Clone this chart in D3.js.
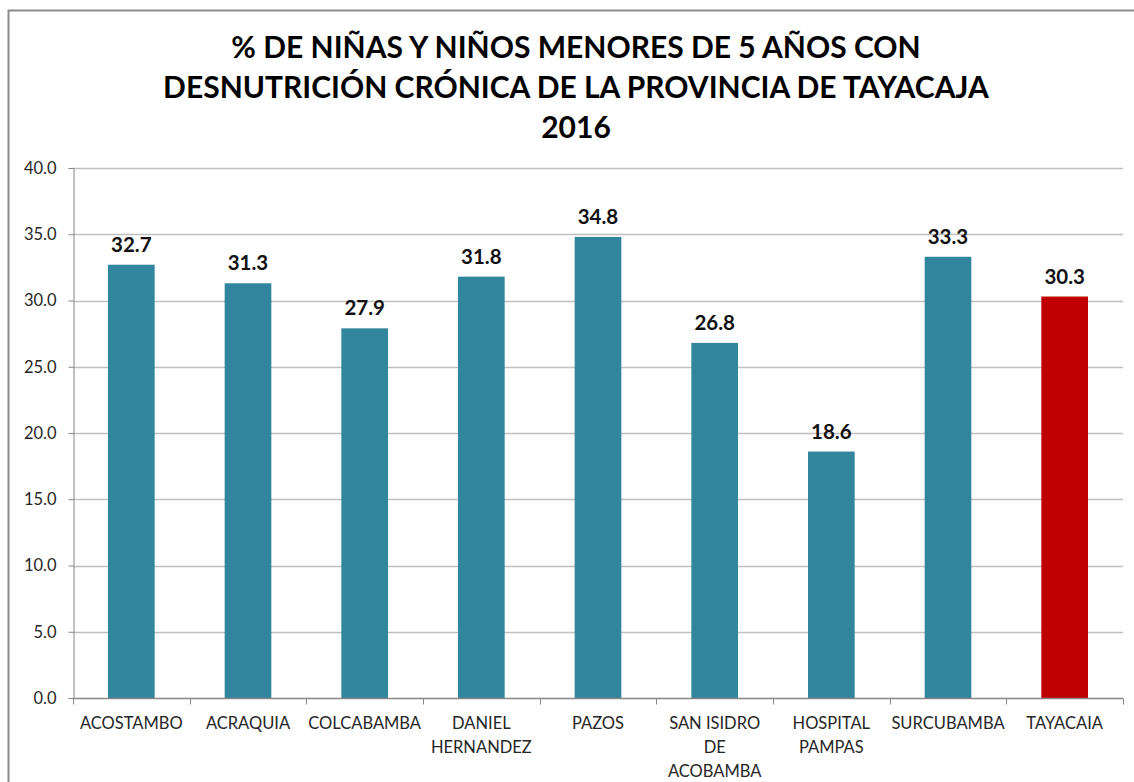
<!DOCTYPE html>
<html>
<head>
<meta charset="utf-8">
<script src="https://cdn.jsdelivr.net/npm/d3@7"></script>
<style>
body { margin: 0; background: #fff; }
svg { display: block; }
</style>
</head>
<body>
<div id="chart"></div>
<script>

var width = 1134,
	height = 782,
	margin = {top: 168, right: 11, bottom: 84, left: 73};

// data

var distritos = ["ACOSTAMBO", "ACRAQUIA", "COLCABAMBA", "DANIEL HERNANDEZ", "PAZOS",
	"SAN ISIDRO DE ACOBAMBA", "HOSPITAL PAMPAS", "SURCUBAMBA", "TAYACAIA"];
var etiquetas = [["ACOSTAMBO"], ["ACRAQUIA"], ["COLCABAMBA"], ["DANIEL", "HERNANDEZ"], ["PAZOS"],
	["SAN ISIDRO", "DE", "ACOBAMBA"], ["HOSPITAL", "PAMPAS"], ["SURCUBAMBA"], ["TAYACAIA"]];
var valores = [32.7, 31.3, 27.9, 31.8, 34.8, 26.8, 18.6, 33.3, 30.3];
var yticks = [0, 5, 10, 15, 20, 25, 30, 35, 40];
var titulo = ["% DE NIÑAS Y NIÑOS MENORES DE 5 AÑOS CON",
	"DESNUTRICIÓN CRÓNICA DE LA PROVINCIA DE TAYACAJA",
	"2016"];

var barcolor = "#31859c",
	totalcolor = "#c00000",
	gridcolor = "#bfbfbf",
	axiscolor = "#868686",
	font = "Lato, 'Open Sans', sans-serif";

var svg = d3.select("#chart").append("svg")
	.attr("width", width)
	.attr("height", height)
	.style("font-family", font);

// outer frame of the chart object
svg.append("rect")
	.attr("x", 8.5).attr("y", 10.5)
	.attr("width", width + 20).attr("height", height + 20)
	.attr("fill", "none")
	.attr("stroke", "#8c8c8c")
	.attr("stroke-width", 2);

var X = d3.scaleBand().domain(distritos).range([margin.left, width - margin.right]).paddingInner(0).paddingOuter(0);
var Y = d3.scaleLinear().domain([0, 40]).range([height - margin.bottom, margin.top]);

// gridlines
svg.append("g").selectAll("line").data(yticks.slice(1)).enter().append("line")
	.attr("x1", margin.left).attr("x2", width - margin.right)
	.attr("y1", function(d){ return Math.round(Y(d)) + 0.5; })
	.attr("y2", function(d){ return Math.round(Y(d)) + 0.5; })
	.attr("stroke", gridcolor).attr("stroke-width", 1.3);

// y axis
var yAxis = d3.axisLeft(Y).tickValues(yticks).tickFormat(d3.format(".1f")).tickSize(5).tickPadding(12);
var gy = svg.append("g").attr("transform", "translate(" + (margin.left + 0.5) + ",0)").call(yAxis);
gy.select(".domain").attr("stroke", axiscolor);
gy.selectAll(".tick line").attr("stroke", axiscolor);
gy.selectAll(".tick text").attr("fill", "#262626").style("font-size", "16.5px").style("font-family", font);

// bars
var bw = X.bandwidth() * 0.4;
svg.append("g").selectAll("rect").data(valores).enter().append("rect")
	.attr("x", function(d, i){ return X(distritos[i]) + (X.bandwidth() - bw) / 2; })
	.attr("y", function(d){ return Y(d); })
	.attr("width", bw)
	.attr("height", function(d){ return Y(0) - Y(d); })
	.attr("fill", function(d, i){ return i == distritos.length - 1 ? totalcolor : barcolor; });

// value labels
svg.append("g").selectAll("text").data(valores).enter().append("text")
	.attr("x", function(d, i){ return X(distritos[i]) + X.bandwidth() / 2; })
	.attr("y", function(d){ return Y(d) - 13; })
	.attr("text-anchor", "middle")
	.style("font-size", "20.5px").style("font-weight", "bold").attr("fill", "#111")
	.text(function(d){ return d3.format(".1f")(d); });

// x axis
var xb = Math.round(Y(0)) + 0.5;
svg.append("line")
	.attr("x1", margin.left).attr("x2", width - margin.right)
	.attr("y1", xb).attr("y2", xb)
	.attr("stroke", axiscolor).attr("stroke-width", 1.3);
svg.append("g").selectAll("line").data(distritos.concat(["end"])).enter().append("line")
	.attr("x1", function(d, i){ return Math.round(margin.left + i * X.step()) + 0.5; })
	.attr("x2", function(d, i){ return Math.round(margin.left + i * X.step()) + 0.5; })
	.attr("y1", xb).attr("y2", xb + 6)
	.attr("stroke", axiscolor);

var xl = svg.append("g").selectAll("text").data(etiquetas).enter().append("text")
	.attr("x", function(d, i){ return X(distritos[i]) + X.bandwidth() / 2; })
	.attr("y", xb + 30)
	.attr("text-anchor", "middle")
	.style("font-size", "16.5px").attr("fill", "#262626");
xl.selectAll("tspan").data(function(d){ return d; }).enter().append("tspan")
	.attr("x", function(){ return this.parentNode.getAttribute("x"); })
	.attr("dy", function(d, i){ return i ? 24 : 0; })
	.text(function(d){ return d; });

// title
svg.append("g").selectAll("text").data(titulo).enter().append("text")
	.attr("x", 576)
	.attr("y", function(d, i){ return 58 + i * 40; })
	.attr("text-anchor", "middle")
	.style("font-size", "30px").style("font-weight", "bold").attr("fill", "#000")
	.text(function(d){ return d; });

</script>
</body>
</html>
